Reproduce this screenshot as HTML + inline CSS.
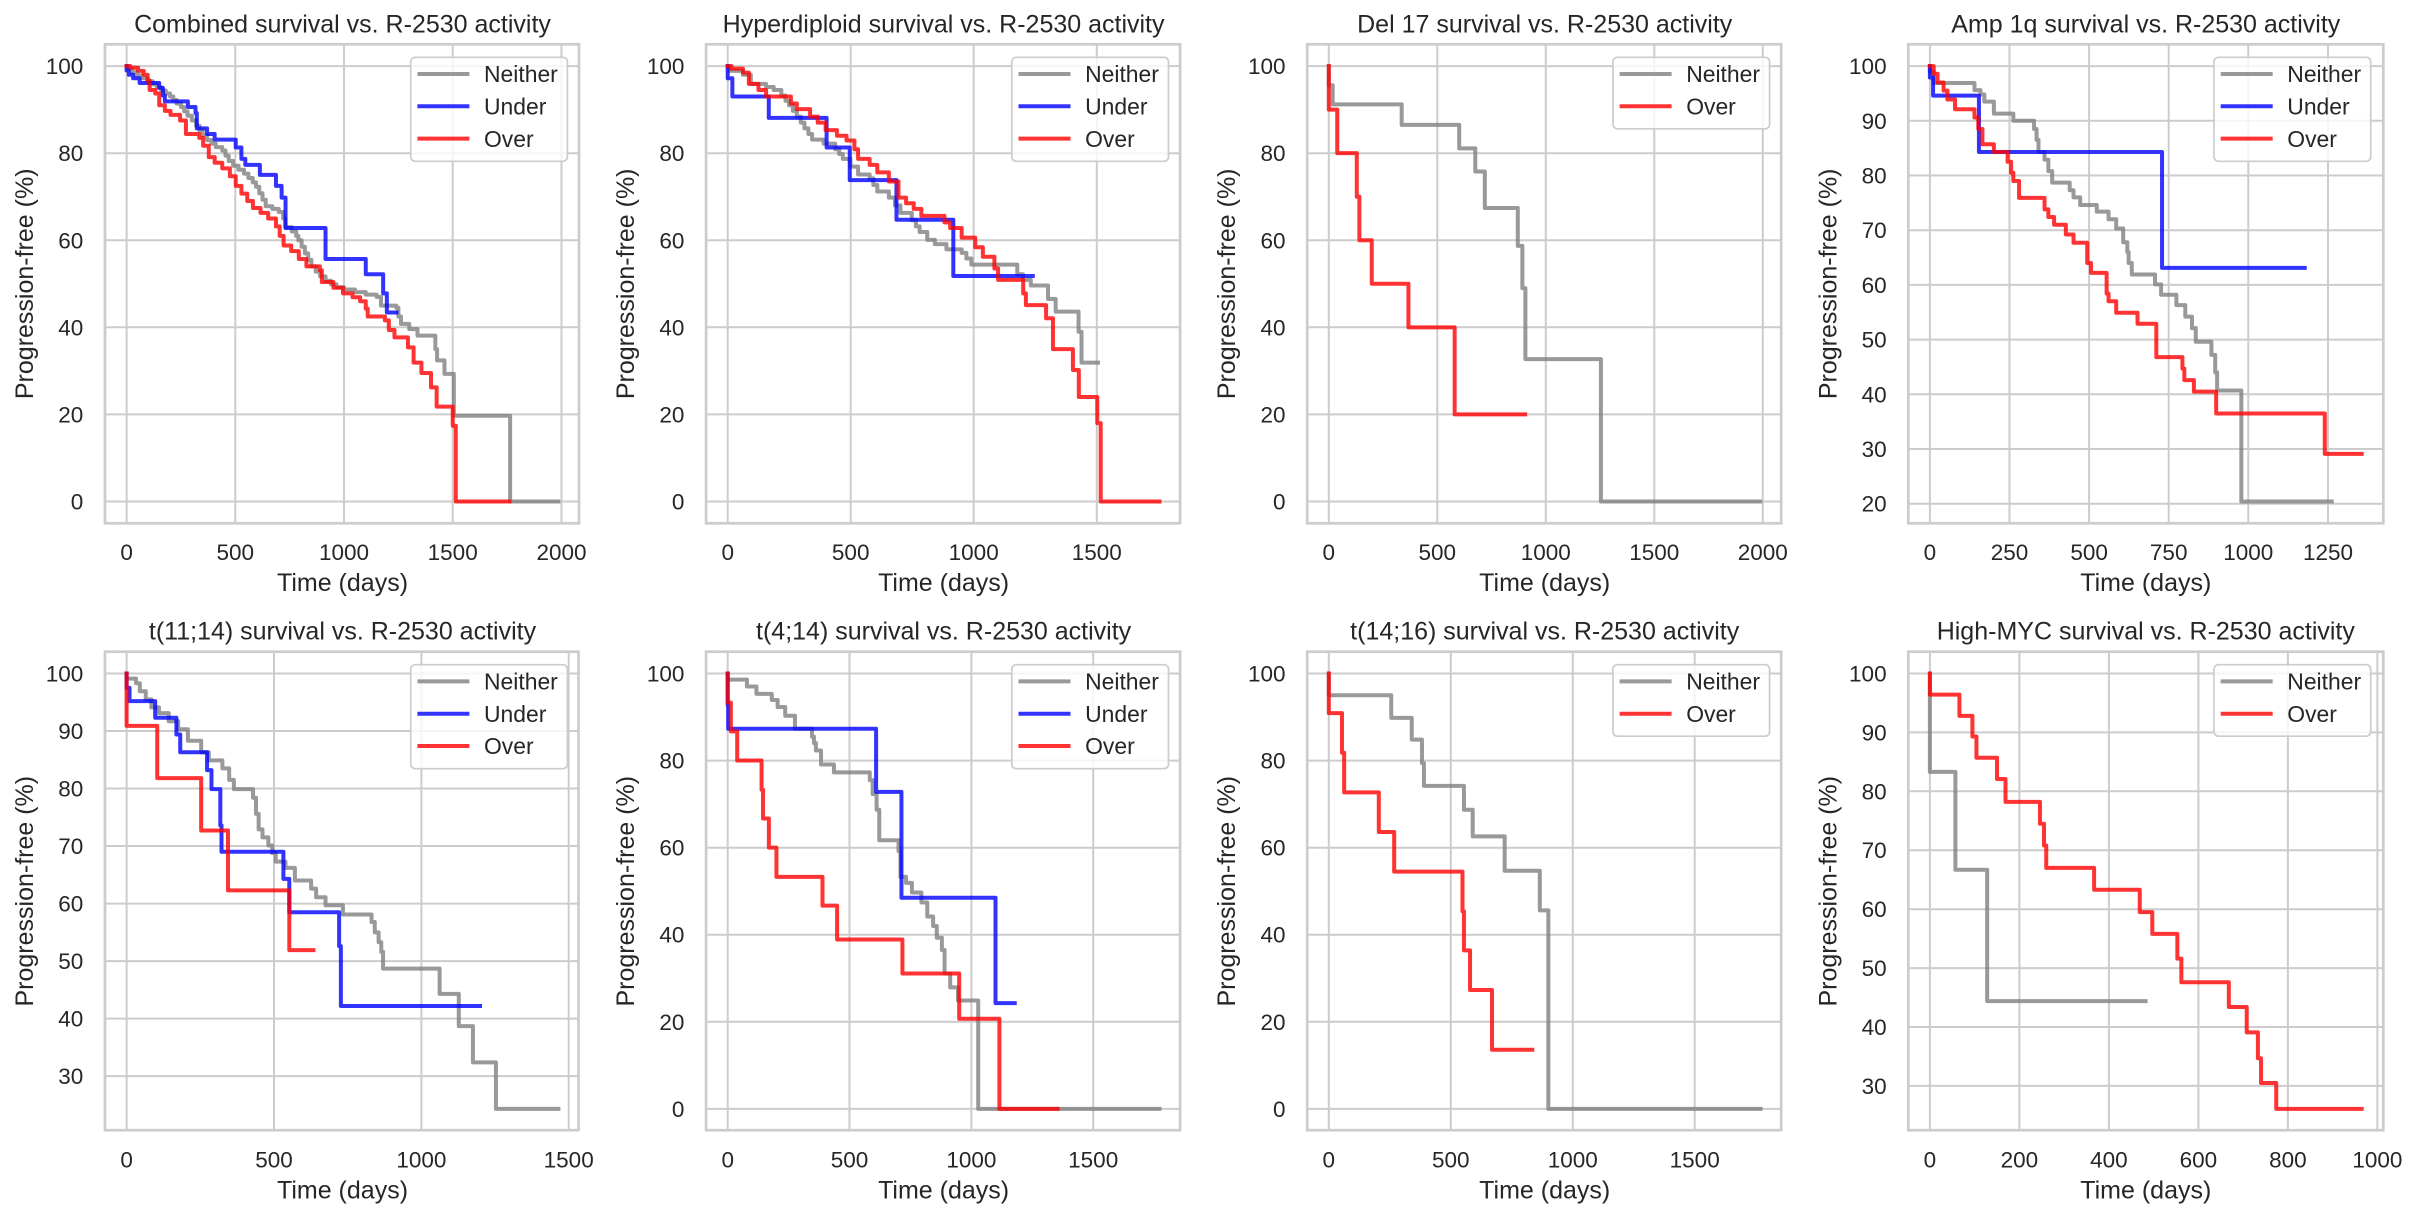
<!DOCTYPE html>
<html><head><meta charset="utf-8"><style>
html,body{margin:0;padding:0;background:#fff}
svg{display:block}
text{font-family:"Liberation Sans",Arial,sans-serif;fill:#262626}
.t{font-size:25px;text-anchor:middle}
.xl{font-size:25px;text-anchor:middle}
.xt{font-size:22.5px;text-anchor:middle}
.yt{font-size:22.5px;text-anchor:end}
.lg{font-size:22.9px}
.gr{stroke:#cccccc;stroke-width:2;fill:none}
.sp{stroke:#cccccc;stroke-width:2.7;fill:none}
.lb{fill:#fff;fill-opacity:.8;stroke:#cccccc;stroke-width:1.7}
.c{fill:none;stroke-width:4;stroke-opacity:.8;vector-effect:non-scaling-stroke;stroke-linejoin:round;stroke-linecap:square}
.g{stroke:#808080}.u{stroke:#0000ff}.o{stroke:#ff0000}
.l{fill:none;stroke-width:4;stroke-opacity:.8;stroke-linecap:square}
</style></head><body>
<svg width="2418" height="1218" viewBox="0 0 2418 1218" xmlns="http://www.w3.org/2000/svg">
<rect width="2418" height="1218" fill="#fff"/>

<!-- ===== Panel 1 ===== -->
<g>
<path class="gr" d="M126.6 44.3V523.3M235.3 44.3V523.3M344 44.3V523.3M452.7 44.3V523.3M561.5 44.3V523.3M105 501.5H580M105 414.4H580M105 327.3H580M105 240.3H580M105 153.2H580M105 66.1H580"/>
<path class="c g" transform="translate(126.59 501.52) scale(0.21743 -4.3545)" d="M0 100 H10 V99.3 H25 V98.6 H45 V97.9 H70 V97.2 H95 V96.5 H120 V95.8 H140 V95.1 H160 V94.4 H180 V93.7 H200 V93 H215 V92.2 H230 V91.4 H250 V90.6 H265 V89.6 H280 V88.6 H300 V87.5 H320 V86.3 H335 V85.2 H350 V84.1 H370 V83 H390 V82.2 H410 V81.4 H440 V80.6 H455 V79.4 H470 V78.2 H490 V77.1 H515 V76.2 H540 V75.3 H560 V74.3 H580 V73.3 H595 V72.3 H610 V70.8 H625 V69.3 H640 V67.8 H670 V67.2 H700 V66.5 H720 V65 H730 V63 H760 V62 H780 V61 H790 V60 H805 V58.5 H820 V57 H835 V55.5 H850 V54 H870 V52.8 H890 V51.7 H915 V50.7 H940 V49.9 H965 V49.2 H1000 V48.7 H1050 V48.1 H1100 V47.5 H1150 V47 H1170 V45 H1240 V44.5 H1250 V42.5 H1262 V40.8 H1300 V39.6 H1338 V38.1 H1420 V35 H1428 V32.4 H1462 V29.3 H1505 V19.7 H1764 V0 H1986"/>
<path class="c u" transform="translate(126.59 501.52) scale(0.21743 -4.3545)" d="M0 100 V99 H10 V98 H30 V97.2 H60 V96.1 H150 V95 H167 V93.2 H176 V91.9 H282 V90.6 H317 V89.2 H323 V85.7 H370 V84.4 H405 V83.1 H502 V81.3 H528 V78.7 H546 V77.3 H613 V75 H687 V72.5 H713 V69.8 H731 V62.8 H915 V55.7 H1100 V52.2 H1180 V47.8 H1197 V43.4 H1241"/>
<path class="c o" transform="translate(126.59 501.52) scale(0.21743 -4.3545)" d="M0 100 H18 V99.6 H53 V98.9 H79 V98 H97 V96.7 H106 V94.5 H132 V93.7 H150 V91 H176 V89.7 H202 V88.8 H246 V87.5 H273 V84.4 H334 V83.5 H352 V81.7 H378 V79.1 H405 V77.8 H440 V76.5 H475 V74.7 H502 V72.5 H528 V70.7 H555 V69 H581 V67.4 H616 V66.3 H651 V65 H687 V63.2 H704 V61 H722 V58.8 H757 V57.5 H792 V55.7 H827 V54 H889 V53.1 H898 V50.4 H951 V49.1 H995 V47.8 H1039 V46.9 H1074 V46 H1100 V44.3 H1109 V42.5 H1188 V41.6 H1206 V39.4 H1232 V37.7 H1294 V35.4 H1320 V31.9 H1356 V29.5 H1400 V26.2 H1426 V21.8 H1500 V17.4 H1514 V0 H1761"/>
<rect class="sp" x="105" y="44.3" width="474" height="479"/>
<rect class="lb" x="410.7" y="57.3" width="156.7" height="104" rx="4.5"/>
<line class="l g" x1="419.4" y1="74" x2="467.4" y2="74"/><text class="lg" x="484" y="82.2">Neither</text>
<line class="l u" x1="419.4" y1="106.3" x2="467.4" y2="106.3"/><text class="lg" x="484" y="114.5">Under</text>
<line class="l o" x1="419.4" y1="138.6" x2="467.4" y2="138.6"/><text class="lg" x="484" y="146.8">Over</text>
<text class="t" x="342.5" y="32.3">Combined survival vs. R-2530 activity</text>
<text class="xt" x="126.6" y="560">0</text><text class="xt" x="235.3" y="560">500</text><text class="xt" x="344" y="560">1000</text><text class="xt" x="452.7" y="560">1500</text><text class="xt" x="561.5" y="560">2000</text>
<text class="yt" x="83.3" y="509.5">0</text><text class="yt" x="83.3" y="422.4">20</text><text class="yt" x="83.3" y="335.3">40</text><text class="yt" x="83.3" y="248.3">60</text><text class="yt" x="83.3" y="161.2">80</text><text class="yt" x="83.3" y="74.1">100</text>
<text class="xl" x="342.5" y="591">Time (days)</text>
<text class="xl" x="33" y="283.8" transform="rotate(-90 33 283.8)">Progression-free (%)</text>
</g>

<!-- ===== Panel 2 ===== -->
<g>
<path class="gr" d="M727.7 44.3V523.3M850.7 44.3V523.3M973.7 44.3V523.3M1096.8 44.3V523.3M706.1 501.5H1181.1M706.1 414.4H1181.1M706.1 327.3H1181.1M706.1 240.3H1181.1M706.1 153.2H1181.1M706.1 66.1H1181.1"/>
<path class="c g" transform="translate(727.69 501.52) scale(0.24605 -4.3545)" d="M0 100 H8 V98.9 H62 V98 H94 V95.9 H156 V95.2 H187 V94.5 H218 V93.2 H235 V92 H249 V91 H265 V89.7 H281 V88.4 H297 V87 H312 V85.7 H328 V84.4 H343 V83.1 H390 V82.2 H437 V80.9 H453 V79.8 H468 V78.7 H499 V76.9 H530 V75.1 H577 V74.2 H592 V72.7 H608 V71.2 H655 V69.8 H680 V68 H702 V66.3 H748 V64.6 H765 V63.2 H780 V61.9 H811 V60.1 H842 V59.1 H889 V57.9 H951 V57.1 H970 V55.8 H990 V54.4 H1177 V52.2 H1200 V50.9 H1232 V49.6 H1302 V46.5 H1333 V43.6 H1426 V39 H1438 V31.9 H1505"/>
<path class="c u" transform="translate(727.69 501.52) scale(0.24605 -4.3545)" d="M0 100 V97.2 H19 V93 H167 V88.1 H402 V81.3 H496 V73.8 H686 V64.7 H917 V51.8 H1240"/>
<path class="c o" transform="translate(727.69 501.52) scale(0.24605 -4.3545)" d="M0 100 H16 V99.4 H62 V98.5 H86 V95.9 H125 V94.5 H156 V93 H257 V91.4 H281 V90.1 H335 V88.4 H366 V87 H398 V85.3 H444 V84 H483 V82.9 H515 V80.9 H530 V78.7 H577 V77.3 H608 V75.6 H655 V73.5 H694 V69.8 H725 V68.5 H756 V67.2 H787 V65.6 H881 V64.1 H904 V62.8 H951 V60.6 H1006 V58.4 H1037 V56.2 H1084 V53.5 H1099 V50.9 H1201 V47.8 H1212 V45.1 H1294 V42.1 H1322 V35 H1403 V30.2 H1427 V24 H1502 V18 H1516 V0 H1755"/>
<rect class="sp" x="706.1" y="44.3" width="474" height="479"/>
<rect class="lb" x="1011.8" y="57.3" width="156.7" height="104" rx="4.5"/>
<line class="l g" x1="1020.5" y1="74" x2="1068.5" y2="74"/><text class="lg" x="1085.1" y="82.2">Neither</text>
<line class="l u" x1="1020.5" y1="106.3" x2="1068.5" y2="106.3"/><text class="lg" x="1085.1" y="114.5">Under</text>
<line class="l o" x1="1020.5" y1="138.6" x2="1068.5" y2="138.6"/><text class="lg" x="1085.1" y="146.8">Over</text>
<text class="t" x="943.6" y="32.3">Hyperdiploid survival vs. R-2530 activity</text>
<text class="xt" x="727.7" y="560">0</text><text class="xt" x="850.7" y="560">500</text><text class="xt" x="973.7" y="560">1000</text><text class="xt" x="1096.8" y="560">1500</text>
<text class="yt" x="684.4" y="509.5">0</text><text class="yt" x="684.4" y="422.4">20</text><text class="yt" x="684.4" y="335.3">40</text><text class="yt" x="684.4" y="248.3">60</text><text class="yt" x="684.4" y="161.2">80</text><text class="yt" x="684.4" y="74.1">100</text>
<text class="xl" x="943.6" y="591">Time (days)</text>
<text class="xl" x="634.1" y="283.8" transform="rotate(-90 634.1 283.8)">Progression-free (%)</text>
</g>

<!-- ===== Panel 3 ===== -->
<g>
<path class="gr" d="M1328.8 44.3V523.3M1437.3 44.3V523.3M1545.8 44.3V523.3M1654.3 44.3V523.3M1762.8 44.3V523.3M1307.2 501.5H1782.2M1307.2 414.4H1782.2M1307.2 327.3H1782.2M1307.2 240.3H1782.2M1307.2 153.2H1782.2M1307.2 66.1H1782.2"/>
<path class="c g" transform="translate(1328.79 501.52) scale(0.217 -4.3545)" d="M0 100 V95.6 H18 V91.2 H336 V86.5 H601 V81.1 H675 V75.8 H719 V67.4 H871 V58.7 H892 V49 H906 V32.7 H1254 V0 H1988"/>
<path class="c o" transform="translate(1328.79 501.52) scale(0.217 -4.3545)" d="M0 100 V90 H39 V80 H129 V70 H141 V60 H198 V50 H367 V40 H580 V20 H905"/>
<rect class="sp" x="1307.2" y="44.3" width="474" height="479"/>
<rect class="lb" x="1612.9" y="57.3" width="156.7" height="71.5" rx="4.5"/>
<line class="l g" x1="1621.6" y1="74" x2="1669.6" y2="74"/><text class="lg" x="1686.2" y="82.2">Neither</text>
<line class="l o" x1="1621.6" y1="106.3" x2="1669.6" y2="106.3"/><text class="lg" x="1686.2" y="114.5">Over</text>
<text class="t" x="1544.7" y="32.3">Del 17 survival vs. R-2530 activity</text>
<text class="xt" x="1328.8" y="560">0</text><text class="xt" x="1437.3" y="560">500</text><text class="xt" x="1545.8" y="560">1000</text><text class="xt" x="1654.3" y="560">1500</text><text class="xt" x="1762.8" y="560">2000</text>
<text class="yt" x="1285.5" y="509.5">0</text><text class="yt" x="1285.5" y="422.4">20</text><text class="yt" x="1285.5" y="335.3">40</text><text class="yt" x="1285.5" y="248.3">60</text><text class="yt" x="1285.5" y="161.2">80</text><text class="yt" x="1285.5" y="74.1">100</text>
<text class="xl" x="1544.7" y="591">Time (days)</text>
<text class="xl" x="1235.2" y="283.8" transform="rotate(-90 1235.2 283.8)">Progression-free (%)</text>
</g>

<!-- ===== Panel 4 ===== -->
<g>
<path class="gr" d="M1929.9 44.3V523.3M2009.5 44.3V523.3M2089.1 44.3V523.3M2168.7 44.3V523.3M2248.3 44.3V523.3M2328 44.3V523.3M1908.3 503.7H2383.3M1908.3 449H2383.3M1908.3 394.3H2383.3M1908.3 339.6H2383.3M1908.3 284.9H2383.3M1908.3 230.2H2383.3M1908.3 175.5H2383.3M1908.3 120.8H2383.3M1908.3 66.1H2383.3"/>
<path class="c g" transform="translate(1929.89 613.12) scale(0.31845 -5.4705)" d="M0 100 V99 H12 V96.9 H140 V95.6 H159 V94.8 H171 V93.5 H201 V91.3 H262 V90 H327 V88.5 H335 V86.5 H341 V84.3 H360 V82.9 H372 V80.8 H384 V78.7 H439 V77.3 H451 V76 H472 V74.6 H524 V73.4 H561 V72 H585 V70.3 H607 V67.8 H620 V66 H624 V64 H634 V61.9 H707 V60.1 H726 V58.2 H774 V56.3 H802 V54.2 H823 V52.1 H835 V49.6 H884 V47.2 H896 V44 H902 V40.7 H978 V20.4 H1262"/>
<path class="c u" transform="translate(1929.89 613.12) scale(0.31845 -5.4705)" d="M0 100 V97.9 H10 V94.6 H154 V84.3 H729 V63.1 H1177"/>
<path class="c o" transform="translate(1929.89 613.12) scale(0.31845 -5.4705)" d="M0 100 H12 V98.6 H24 V97 H43 V95.5 H55 V93.9 H79 V92.1 H140 V90.6 H152 V88.5 H165 V85.7 H201 V84.3 H244 V82.5 H255 V80.5 H262 V79 H280 V75.9 H360 V73.8 H372 V72.4 H390 V71 H427 V69.2 H451 V67.7 H494 V64 H506 V62.2 H555 V58.4 H561 V57 H585 V54.9 H652 V52.9 H711 V46.8 H793 V44.7 H799 V42.6 H829 V40.5 H899 V36.5 H1240 V29.1 H1356"/>
<rect class="sp" x="1908.3" y="44.3" width="475" height="479"/>
<rect class="lb" x="2214" y="57.3" width="156.7" height="104" rx="4.5"/>
<line class="l g" x1="2222.7" y1="74" x2="2270.7" y2="74"/><text class="lg" x="2287.3" y="82.2">Neither</text>
<line class="l u" x1="2222.7" y1="106.3" x2="2270.7" y2="106.3"/><text class="lg" x="2287.3" y="114.5">Under</text>
<line class="l o" x1="2222.7" y1="138.6" x2="2270.7" y2="138.6"/><text class="lg" x="2287.3" y="146.8">Over</text>
<text class="t" x="2145.8" y="32.3">Amp 1q survival vs. R-2530 activity</text>
<text class="xt" x="1929.9" y="560">0</text><text class="xt" x="2009.5" y="560">250</text><text class="xt" x="2089.1" y="560">500</text><text class="xt" x="2168.7" y="560">750</text><text class="xt" x="2248.3" y="560">1000</text><text class="xt" x="2328" y="560">1250</text>
<text class="yt" x="1886.6" y="511.7">20</text><text class="yt" x="1886.6" y="457">30</text><text class="yt" x="1886.6" y="402.3">40</text><text class="yt" x="1886.6" y="347.6">50</text><text class="yt" x="1886.6" y="292.9">60</text><text class="yt" x="1886.6" y="238.2">70</text><text class="yt" x="1886.6" y="183.5">80</text><text class="yt" x="1886.6" y="128.8">90</text><text class="yt" x="1886.6" y="74.1">100</text>
<text class="xl" x="2145.8" y="591">Time (days)</text>
<text class="xl" x="1836.3" y="283.8" transform="rotate(-90 1836.3 283.8)">Progression-free (%)</text>
</g>

<!-- ===== Panel 5 ===== -->
<g>
<path class="gr" d="M126.6 651.7V1130.7M274 651.7V1130.7M421.4 651.7V1130.7M568.7 651.7V1130.7M105 1076.1H580M105 1018.6H580M105 961.1H580M105 903.6H580M105 846H580M105 788.5H580M105 731H580M105 673.5H580"/>
<path class="c g" transform="translate(126.59 1248.71) scale(0.29476 -5.7524)" d="M0 100 V99.1 H32 V98.3 H45 V96.9 H65 V95.5 H84 V94.1 H110 V93.1 H143 V91.7 H175 V90.3 H208 V88.3 H253 V86.3 H279 V84.9 H325 V83.5 H348 V81.5 H364 V79.9 H429 V78.4 H439 V75.6 H448 V72.9 H461 V71.5 H481 V70.1 H494 V68.8 H506 V67.3 H539 V66.2 H571 V64 H626 V62.6 H643 V61.1 H675 V59.7 H734 V58.1 H831 V56.8 H842 V55 H855 V53.3 H864 V51.6 H870 V48.7 H1062 V44.3 H1127 V38.7 H1175 V32.4 H1253 V24.3 H1465"/>
<path class="c u" transform="translate(126.59 1248.71) scale(0.29476 -5.7524)" d="M0 100 V97.5 H10 V95.2 H97 V92.3 H169 V89.4 H182 V86.3 H273 V83.2 H288 V79.9 H318 V73.6 H322 V69 H532 V64.3 H552 V58.5 H721 V52.6 H727 V42.2 H1199"/>
<path class="c o" transform="translate(126.59 1248.71) scale(0.29476 -5.7524)" d="M0 100 V90.9 H104 V81.8 H253 V72.7 H344 V62.3 H552 V51.9 H634"/>
<rect class="sp" x="105" y="651.7" width="473.5" height="478.5"/>
<rect class="lb" x="410.7" y="664.7" width="156.7" height="104" rx="4.5"/>
<line class="l g" x1="419.4" y1="681.4" x2="467.4" y2="681.4"/><text class="lg" x="484" y="689.6">Neither</text>
<line class="l u" x1="419.4" y1="713.7" x2="467.4" y2="713.7"/><text class="lg" x="484" y="721.9">Under</text>
<line class="l o" x1="419.4" y1="746" x2="467.4" y2="746"/><text class="lg" x="484" y="754.2">Over</text>
<text class="t" x="342.5" y="639.7">t(11;14) survival vs. R-2530 activity</text>
<text class="xt" x="126.6" y="1167.4">0</text><text class="xt" x="274" y="1167.4">500</text><text class="xt" x="421.4" y="1167.4">1000</text><text class="xt" x="568.7" y="1167.4">1500</text>
<text class="yt" x="83.3" y="1084.1">30</text><text class="yt" x="83.3" y="1026.6">40</text><text class="yt" x="83.3" y="969.1">50</text><text class="yt" x="83.3" y="911.6">60</text><text class="yt" x="83.3" y="854">70</text><text class="yt" x="83.3" y="796.5">80</text><text class="yt" x="83.3" y="739">90</text><text class="yt" x="83.3" y="681.5">100</text>
<text class="xl" x="342.5" y="1198.4">Time (days)</text>
<text class="xl" x="33" y="891.2" transform="rotate(-90 33 891.2)">Progression-free (%)</text>
</g>

<!-- ===== Panel 6 ===== -->
<g>
<path class="gr" d="M727.7 651.7V1130.7M849.5 651.7V1130.7M971.4 651.7V1130.7M1093.2 651.7V1130.7M706.1 1108.9H1181.1M706.1 1021.8H1181.1M706.1 934.7H1181.1M706.1 847.7H1181.1M706.1 760.6H1181.1M706.1 673.5H1181.1"/>
<path class="c g" transform="translate(727.69 1108.92) scale(0.24369 -4.3545)" d="M0 100 V98.6 H79 V97 H118 V95.3 H181 V93.9 H205 V92.3 H236 V90.3 H276 V87.3 H346 V85.5 H354 V84 H362 V82.3 H383 V79.1 H436 V77.3 H583 V75.5 H595 V72.3 H611 V68.7 H622 V61.7 H701 V59.2 H709 V53.3 H732 V51.9 H756 V49.7 H795 V47.4 H819 V44.2 H843 V42 H858 V39.3 H879 V36.5 H890 V31.1 H913 V27.9 H945 V24.9 H1028 V0 H1772"/>
<path class="c u" transform="translate(727.69 1108.92) scale(0.24369 -4.3545)" d="M0 100 V92.7 H2 V87.3 H609 V72.8 H713 V48.5 H1099 V24.3 H1178"/>
<path class="c o" transform="translate(727.69 1108.92) scale(0.24369 -4.3545)" d="M0 100 V93.3 H13 V86.7 H39 V80 H139 V73.3 H145 V66.7 H169 V60 H200 V53.3 H389 V46.7 H449 V38.9 H717 V31.1 H950 V20.7 H1115 V0 H1354"/>
<rect class="sp" x="706.1" y="651.7" width="474" height="478.5"/>
<rect class="lb" x="1011.8" y="664.7" width="156.7" height="104" rx="4.5"/>
<line class="l g" x1="1020.5" y1="681.4" x2="1068.5" y2="681.4"/><text class="lg" x="1085.1" y="689.6">Neither</text>
<line class="l u" x1="1020.5" y1="713.7" x2="1068.5" y2="713.7"/><text class="lg" x="1085.1" y="721.9">Under</text>
<line class="l o" x1="1020.5" y1="746" x2="1068.5" y2="746"/><text class="lg" x="1085.1" y="754.2">Over</text>
<text class="t" x="943.6" y="639.7">t(4;14) survival vs. R-2530 activity</text>
<text class="xt" x="727.7" y="1167.4">0</text><text class="xt" x="849.5" y="1167.4">500</text><text class="xt" x="971.4" y="1167.4">1000</text><text class="xt" x="1093.2" y="1167.4">1500</text>
<text class="yt" x="684.4" y="1116.9">0</text><text class="yt" x="684.4" y="1029.8">20</text><text class="yt" x="684.4" y="942.7">40</text><text class="yt" x="684.4" y="855.7">60</text><text class="yt" x="684.4" y="768.6">80</text><text class="yt" x="684.4" y="681.5">100</text>
<text class="xl" x="943.6" y="1198.4">Time (days)</text>
<text class="xl" x="634.1" y="891.2" transform="rotate(-90 634.1 891.2)">Progression-free (%)</text>
</g>

<!-- ===== Panel 7 ===== -->
<g>
<path class="gr" d="M1328.8 651.7V1130.7M1450.8 651.7V1130.7M1572.8 651.7V1130.7M1694.7 651.7V1130.7M1307.2 1108.9H1782.2M1307.2 1021.8H1782.2M1307.2 934.7H1782.2M1307.2 847.7H1782.2M1307.2 760.6H1782.2M1307.2 673.5H1782.2"/>
<path class="c g" transform="translate(1328.79 1108.92) scale(0.24396 -4.3545)" d="M0 100 V95 H256 V89.8 H340 V84.8 H382 V79.4 H390 V74.2 H554 V68.7 H590 V62.6 H721 V54.7 H865 V45.6 H900 V0 H1770"/>
<path class="c o" transform="translate(1328.79 1108.92) scale(0.24396 -4.3545)" d="M0 100 V90.9 H54 V81.8 H63 V72.7 H205 V63.6 H268 V54.5 H548 V45.4 H554 V36.4 H579 V27.3 H669 V13.6 H834"/>
<rect class="sp" x="1307.2" y="651.7" width="474" height="478.5"/>
<rect class="lb" x="1612.9" y="664.7" width="156.7" height="71.5" rx="4.5"/>
<line class="l g" x1="1621.6" y1="681.4" x2="1669.6" y2="681.4"/><text class="lg" x="1686.2" y="689.6">Neither</text>
<line class="l o" x1="1621.6" y1="713.7" x2="1669.6" y2="713.7"/><text class="lg" x="1686.2" y="721.9">Over</text>
<text class="t" x="1544.7" y="639.7">t(14;16) survival vs. R-2530 activity</text>
<text class="xt" x="1328.8" y="1167.4">0</text><text class="xt" x="1450.8" y="1167.4">500</text><text class="xt" x="1572.8" y="1167.4">1000</text><text class="xt" x="1694.7" y="1167.4">1500</text>
<text class="yt" x="1285.5" y="1116.9">0</text><text class="yt" x="1285.5" y="1029.8">20</text><text class="yt" x="1285.5" y="942.7">40</text><text class="yt" x="1285.5" y="855.7">60</text><text class="yt" x="1285.5" y="768.6">80</text><text class="yt" x="1285.5" y="681.5">100</text>
<text class="xl" x="1544.7" y="1198.4">Time (days)</text>
<text class="xl" x="1235.2" y="891.2" transform="rotate(-90 1235.2 891.2)">Progression-free (%)</text>
</g>

<!-- ===== Panel 8 ===== -->
<g>
<path class="gr" d="M1929.9 651.7V1130.7M2019.4 651.7V1130.7M2108.9 651.7V1130.7M2198.4 651.7V1130.7M2287.9 651.7V1130.7M2377.4 651.7V1130.7M1908.3 1085.9H2383.3M1908.3 1027H2383.3M1908.3 968.1H2383.3M1908.3 909.2H2383.3M1908.3 850.2H2383.3M1908.3 791.3H2383.3M1908.3 732.4H2383.3M1908.3 673.5H2383.3"/>
<path class="c g" transform="translate(1929.89 1262.72) scale(0.44748 -5.8925)" d="M0 100 V83.3 H57 V66.7 H128 V44.4 H482"/>
<path class="c o" transform="translate(1929.89 1262.72) scale(0.44748 -5.8925)" d="M0 100 V96.4 H66 V92.8 H95 V89.3 H104 V85.7 H150 V82.1 H169 V78.2 H246 V74.5 H255 V70.8 H260 V67 H367 V63.3 H469 V59.5 H497 V55.8 H553 V51.6 H562 V47.6 H668 V43.4 H708 V39.1 H733 V34.7 H740 V30.5 H774 V26.1 H965"/>
<rect class="sp" x="1908.3" y="651.7" width="475" height="478.5"/>
<rect class="lb" x="2214" y="664.7" width="156.7" height="71.5" rx="4.5"/>
<line class="l g" x1="2222.7" y1="681.4" x2="2270.7" y2="681.4"/><text class="lg" x="2287.3" y="689.6">Neither</text>
<line class="l o" x1="2222.7" y1="713.7" x2="2270.7" y2="713.7"/><text class="lg" x="2287.3" y="721.9">Over</text>
<text class="t" x="2145.8" y="639.7">High-MYC survival vs. R-2530 activity</text>
<text class="xt" x="1929.9" y="1167.4">0</text><text class="xt" x="2019.4" y="1167.4">200</text><text class="xt" x="2108.9" y="1167.4">400</text><text class="xt" x="2198.4" y="1167.4">600</text><text class="xt" x="2287.9" y="1167.4">800</text><text class="xt" x="2377.4" y="1167.4">1000</text>
<text class="yt" x="1886.6" y="1093.9">30</text><text class="yt" x="1886.6" y="1035">40</text><text class="yt" x="1886.6" y="976.1">50</text><text class="yt" x="1886.6" y="917.2">60</text><text class="yt" x="1886.6" y="858.2">70</text><text class="yt" x="1886.6" y="799.3">80</text><text class="yt" x="1886.6" y="740.4">90</text><text class="yt" x="1886.6" y="681.5">100</text>
<text class="xl" x="2145.8" y="1198.4">Time (days)</text>
<text class="xl" x="1836.3" y="891.2" transform="rotate(-90 1836.3 891.2)">Progression-free (%)</text>
</g>
</svg>
</body></html>
